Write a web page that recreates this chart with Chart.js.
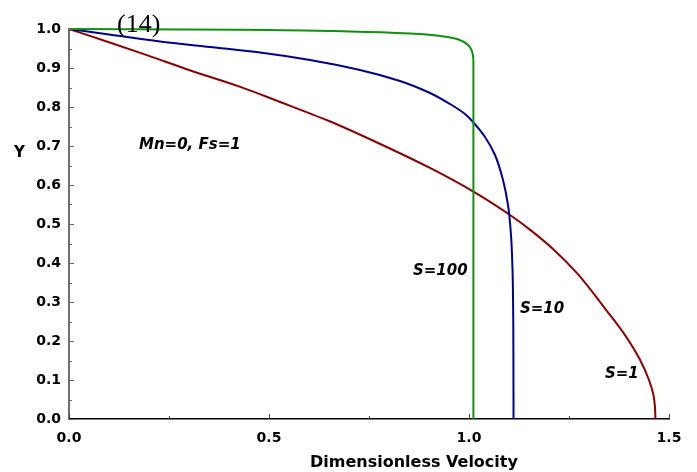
<!DOCTYPE html>
<html><head><meta charset="utf-8">
<script src="https://cdn.jsdelivr.net/npm/chart.js@4"></script>
<style>html,body{margin:0;padding:0;background:#fff}canvas{display:block}</style>
</head><body>
<canvas id="c" width="697" height="472"></canvas>
<script>
// ---- tick labels ----
const xTickValues = [0, 0.5, 1.0, 1.5];
const yTickValues = [0, 0.1, 0.2, 0.3, 0.4, 0.5, 0.6, 0.7, 0.8, 0.9, 1.0];
const xMinorValues = [0, 0.25, 0.5, 0.75, 1.0, 1.25, 1.5];
const yMinorValues = [0, 0.05, 0.1, 0.15, 0.2, 0.25, 0.3, 0.35, 0.4, 0.45, 0.5, 0.55, 0.6, 0.65, 0.7, 0.75, 0.8, 0.85, 0.9, 0.95, 1.0];

// ---- series: S=100 (green) ----
const s100Velocity = [0, 0.4275, 0.7025, 0.8525, 0.9275, 0.965, 0.985, 0.9975, 1.005, 1.0093, 1.011, 1.011];
const s100Y        = [1, 0.998, 0.9936, 0.9885, 0.9821, 0.9756, 0.9679, 0.959, 0.9487, 0.9359, 0.9154, 0];

// ---- series: S=10 (blue) ----
const s10Velocity = [0, 0.1, 0.2275, 0.3525, 0.4775, 0.6025, 0.7275, 0.8275, 0.9025, 0.9525, 0.99, 1.01, 1.04, 1.065, 1.085, 1.0975, 1.105, 1.1088, 1.1108, 1.1113];
const s10Y        = [1, 0.9859, 0.9679, 0.9538, 0.9397, 0.9205, 0.8949, 0.8667, 0.8359, 0.8077, 0.7821, 0.7615, 0.7231, 0.6769, 0.6128, 0.5487, 0.4718, 0.3821, 0.2282, 0];

// ---- series: S=1 (red) ----
const s1Velocity = [0, 0.1, 0.2, 0.3, 0.43, 0.52, 0.65, 0.77, 0.9, 1.011, 1.1025, 1.153, 1.21, 1.27, 1.344, 1.39, 1.4275, 1.45, 1.461, 1.465, 1.466];
const s1Y        = [1, 0.966, 0.931, 0.895, 0.851, 0.816, 0.764, 0.709, 0.645, 0.583, 0.523, 0.485, 0.436, 0.374, 0.278, 0.215, 0.152, 0.1, 0.062, 0.03, 0];

// ---- text ----
const xTitle = 'Dimensionless Velocity';
const yTitle = 'Y';
const figureNumber = '(14)';
const paramText = 'Mn=0, Fs=1';
const curveLabels = ['S=100', 'S=10', 'S=1'];
const curveLabelPos = [[0.86, 0.379], [1.1275, 0.282], [1.34, 0.115]];
const paramPos = [0.175, 0.703];

const pts = (xs, ys) => xs.map((x, i) => ({x: x, y: ys[i]}));
const tickFont = {family: 'DejaVu Sans', size: 14, weight: 'bold'};

const decor = {
  id: 'decor',
  afterDraw(chart) {
    const ctx = chart.ctx, xs = chart.scales.x, ys = chart.scales.y;
    const a = chart.chartArea;
    ctx.save();
    ctx.strokeStyle = '#666'; ctx.lineWidth = 1;
    yMinorValues.forEach((v, i) => {
      const p = Math.round(ys.getPixelForValue(v)) + 0.5;
      const len = (i % 2 === 0) ? 5 : 3;
      ctx.beginPath(); ctx.moveTo(a.left, p); ctx.lineTo(a.left + len, p); ctx.stroke();
    });
    ctx.strokeStyle = '#444';
    xMinorValues.forEach((v, i) => {
      const p = Math.round(xs.getPixelForValue(v)) + 0.5;
      const len = (i % 2 === 0) ? 5 : 3;
      ctx.beginPath(); ctx.moveTo(p, a.bottom); ctx.lineTo(p, a.bottom - len); ctx.stroke();
    });
    ctx.fillStyle = '#000';
    ctx.textAlign = 'left'; ctx.textBaseline = 'alphabetic';
    ctx.font = 'bold 16px "DejaVu Sans"';
    ctx.fillText(xTitle, 310, 467);
    ctx.font = 'bold 15px "DejaVu Sans"';
    ctx.fillText(yTitle, 14, 157);
    ctx.font = '26px "Liberation Serif"';
    ctx.fillText(figureNumber, 117, 32);
    ctx.font = 'italic bold 15px "DejaVu Sans"';
    ctx.textBaseline = 'middle';
    ctx.fillText(paramText, xs.getPixelForValue(paramPos[0]), ys.getPixelForValue(paramPos[1]));
    curveLabels.forEach((t, i) => {
      ctx.fillText(t, xs.getPixelForValue(curveLabelPos[i][0]), ys.getPixelForValue(curveLabelPos[i][1]));
    });
    ctx.restore();
  }
};

const lineStyle = {borderWidth: 2, showLine: true, pointRadius: 0, cubicInterpolationMode: 'monotone', indexAxis: 'y', clip: false};

new Chart(document.getElementById('c'), {
  type: 'scatter',
  data: {
    datasets: [
      Object.assign({label: curveLabels[0], data: pts(s100Velocity, s100Y), borderColor: '#109010'}, lineStyle),
      Object.assign({label: curveLabels[1], data: pts(s10Velocity, s10Y), borderColor: '#00008c'}, lineStyle),
      Object.assign({label: curveLabels[2], data: pts(s1Velocity, s1Y), borderColor: '#8a0000'}, lineStyle)
    ]
  },
  options: {
    responsive: false, animation: false, devicePixelRatio: 1,
    layout: {padding: {top: 29, right: 28, left: 0, bottom: 0}},
    plugins: {legend: {display: false}, tooltip: {enabled: false}},
    scales: {
      x: {
        type: 'linear', min: 0, max: 1.5, position: 'bottom',
        afterBuildTicks: s => { s.ticks = xTickValues.map(v => ({value: v})); },
        afterFit: s => { s.height = 53; },
        grid: {display: false, drawTicks: false, tickLength: 0},
        border: {display: true, color: '#000', width: 1.5},
        ticks: {font: tickFont, color: '#000', padding: 11, maxRotation: 0, autoSkip: false, callback: v => Number(v).toFixed(1)}
      },
      y: {
        type: 'linear', min: 0, max: 1, position: 'left',
        afterBuildTicks: s => { s.ticks = yTickValues.map(v => ({value: v})); },
        afterFit: s => { s.width = 69; },
        grid: {display: false, drawTicks: false, tickLength: 0},
        border: {display: true, color: '#707070', width: 2},
        ticks: {font: tickFont, color: '#000', padding: 8, autoSkip: false, callback: v => Number(v).toFixed(1)}
      }
    }
  },
  plugins: [decor]
});
</script>
</body></html>
